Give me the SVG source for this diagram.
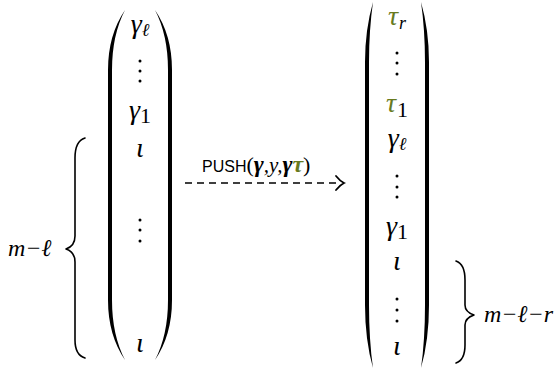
<svg xmlns="http://www.w3.org/2000/svg" width="559" height="371" viewBox="0 0 559 371">
<style>
.m{font-family:"Liberation Serif","DejaVu Serif",serif;font-style:italic;font-size:28px;fill:#000}
.l{font-family:"Liberation Serif","DejaVu Serif",serif;font-style:italic;font-size:24px;fill:#000}
.n{font-family:"Liberation Serif","DejaVu Serif",serif;font-style:normal;font-size:22px}
.s{font-size:18px}
.g{fill:#687a1e}
.b{font-weight:bold}
.lbl{font-family:"Liberation Sans","DejaVu Sans",sans-serif;font-size:16px;fill:#000}
.p{fill:#000}
.br{fill:none;stroke:#000;stroke-width:1.6;stroke-linecap:round;stroke-linejoin:round}
.d{fill:#000}
</style>
<g id="left-matrix">
  <path class="p" d="M125,10 Q108,35 108,70 L108,300 Q108,335 125,360 Q112,335 112,300 L112,70 Q112,35 125,10 Z"/>
  <path class="p" d="M155,10 Q172,35 172,70 L172,300 Q172,335 155,360 Q168,335 168,300 L168,70 Q168,35 155,10 Z"/>
  <text class="m" x="140" y="33" text-anchor="middle">γ<tspan class="s" dy="3">ℓ</tspan></text>
  <circle class="d" cx="140" cy="61" r="1.5"/><circle class="d" cx="140" cy="71" r="1.5"/><circle class="d" cx="140" cy="81" r="1.5"/>
  <text class="m" x="140" y="119" text-anchor="middle">γ<tspan class="n" dy="4">1</tspan></text>
  <text class="m" x="140" y="157" text-anchor="middle">ι</text>
  <circle class="d" cx="140" cy="220" r="1.5"/><circle class="d" cx="140" cy="230" r="1.5"/><circle class="d" cx="140" cy="241" r="1.5"/>
  <text class="m" x="140" y="352" text-anchor="middle">ι</text>
</g>
<g id="left-brace">
  <path class="br" d="M85,138 Q75,141 75,158 L75,236 Q75,246 66,249 Q75,252 75,262 L75,340 Q75,355 85,358"/>
  <text class="l" x="8" y="256">m−ℓ</text>
</g>
<g id="right-matrix">
  <path class="p" d="M373,2 Q365,30 365,62 L365,305 Q365,340 373,368 Q369,340 369,305 L369,62 Q369,30 373,2 Z"/>
  <path class="p" d="M421,2 Q429,30 429,62 L429,305 Q429,340 421,368 Q425,340 425,305 L425,62 Q425,30 421,2 Z"/>
  <text class="m" x="397" y="25" text-anchor="middle"><tspan class="g">τ</tspan><tspan class="s" dx="1" dy="4">r</tspan></text>
  <circle class="d" cx="397" cy="53" r="1.5"/><circle class="d" cx="397" cy="63" r="1.5"/><circle class="d" cx="397" cy="74" r="1.5"/>
  <text class="m" x="397" y="112" text-anchor="middle"><tspan class="g">τ</tspan><tspan class="n" dx="1" dy="5">1</tspan></text>
  <text class="m" x="397" y="147" text-anchor="middle">γ<tspan class="s" dy="3">ℓ</tspan></text>
  <circle class="d" cx="397" cy="176" r="1.5"/><circle class="d" cx="397" cy="187" r="1.5"/><circle class="d" cx="397" cy="197" r="1.5"/>
  <text class="m" x="397" y="235" text-anchor="middle">γ<tspan class="n" dy="4">1</tspan></text>
  <text class="m" x="397" y="270" text-anchor="middle">ι</text>
  <circle class="d" cx="397" cy="299" r="1.5"/><circle class="d" cx="397" cy="310" r="1.5"/><circle class="d" cx="397" cy="321" r="1.5"/>
  <text class="m" x="397" y="355" text-anchor="middle">ι</text>
</g>
<g id="right-brace">
  <path class="br" d="M456,261 Q465,264 465,280 L465,305 Q465,312 474,315 Q465,318 465,325 L465,345 Q465,360 456,363"/>
  <text class="l" x="484" y="322">m−ℓ−r</text>
</g>
<g id="connectors">
  <line x1="185" y1="183" x2="337" y2="183" stroke="#000" stroke-width="1.6" stroke-dasharray="7,5"/>
  <path d="M336,176 Q340,181 344,183 Q340,185 336,190" fill="none" stroke="#000" stroke-width="1.8" stroke-linecap="round"/>
  <text class="lbl" x="202" y="172">PUSH<tspan class="n" style="font-size:22px">(</tspan><tspan class="m b" style="font-size:24px">γ</tspan><tspan class="l" style="font-size:21px">,y,</tspan><tspan class="m b" style="font-size:24px">γ</tspan><tspan class="m b g" style="font-size:24px">τ</tspan><tspan class="n" style="font-size:22px">)</tspan></text>
</g>
</svg>
